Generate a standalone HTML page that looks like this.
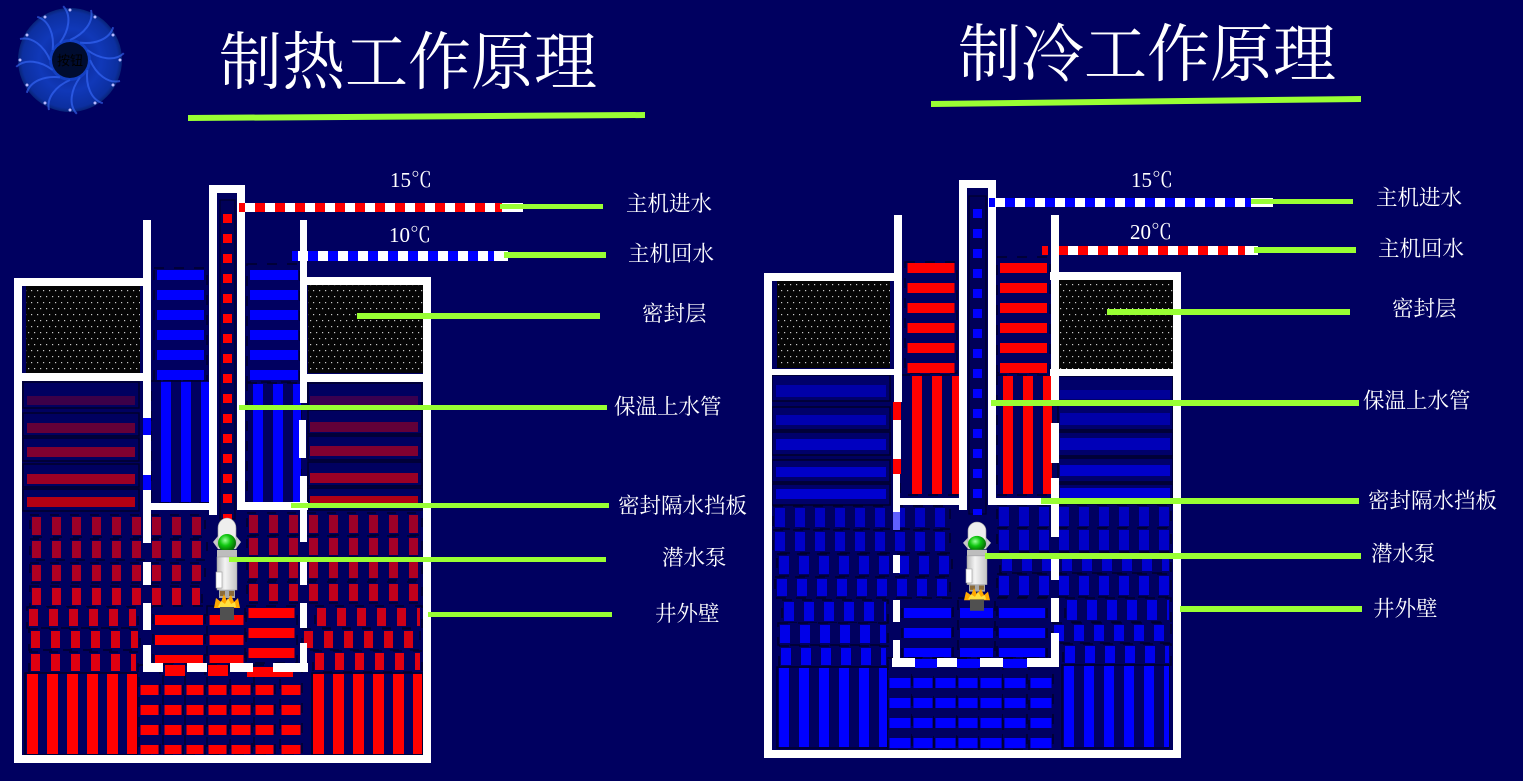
<!DOCTYPE html>
<html><head><meta charset="utf-8">
<style>
html,body{margin:0;padding:0;background:#000060;width:1523px;height:781px;overflow:hidden}
svg{display:block}
.b{fill:#000060;stroke:#00002a;stroke-width:1.5}
.bb{fill:#00006a;stroke:#00002a;stroke-width:1.5}
.w{fill:#ffffff}
.lbl{font-family:"Liberation Serif","Noto Serif CJK SC",serif;font-size:21.5px;fill:#ffffff}
.ttl{font-family:"Liberation Serif","Noto Serif CJK SC",serif;font-size:63px;fill:#ffffff}
.tmp{font-family:"Liberation Serif","Noto Serif CJK SC",serif;font-size:21px;fill:#ffffff}
.g{fill:#99ff33}
</style></head>
<body>
<svg width="1523" height="781" viewBox="0 0 1523 781" xmlns="http://www.w3.org/2000/svg">
<defs>
<pattern id="dots" patternUnits="userSpaceOnUse" width="6" height="12">
<rect width="6" height="12" fill="#050505"/>
<rect x="1" y="2" width="1.2" height="1.2" fill="#c8c8c8"/>
<rect x="4" y="8" width="1.2" height="1.2" fill="#c8c8c8"/>
</pattern>
<radialGradient id="fan" cx="50%" cy="50%" r="50%">
<stop offset="0" stop-color="#0a2488"/>
<stop offset="0.6" stop-color="#1038b8"/>
<stop offset="0.92" stop-color="#0c2fa0"/>
<stop offset="1" stop-color="#082478"/>
</radialGradient>
<radialGradient id="gball" cx="40%" cy="35%" r="60%">
<stop offset="0" stop-color="#9cff9c"/>
<stop offset="0.5" stop-color="#10c810"/>
<stop offset="1" stop-color="#067006"/>
</radialGradient>
<linearGradient id="body" x1="0" x2="1">
<stop offset="0" stop-color="#b8b8b8"/>
<stop offset="0.4" stop-color="#f4f4f4"/>
<stop offset="1" stop-color="#c4c4c4"/>
</linearGradient>
<g id="pump">
<polygon points="-14,24 -9,18 9,18 14,24 9,31 -9,31" fill="#c8c8c8"/>
<path d="M-9,31 L-9,10 A9,10 0 0 1 9,10 L9,31 Z" fill="#eeeeee" stroke="#a0a0a0" stroke-width="0.6"/>
<circle cx="0" cy="25" r="9" fill="url(#gball)"/>
<rect x="-10" y="32" width="20" height="7" fill="#bdbdbd"/>
<rect x="-10" y="39" width="20" height="33" fill="url(#body)" stroke="#9a9a9a" stroke-width="0.5"/>
<rect x="-11" y="54" width="6" height="16" fill="#ffffff" stroke="#999" stroke-width="0.6"/>
<rect x="-8" y="72" width="16" height="8" fill="#a8a8a8"/>
<rect x="-7" y="73" width="5" height="5" fill="#8a6a3a"/>
<rect x="2" y="73" width="5" height="5" fill="#8a6a3a"/>
<polygon points="-13,90 -11,80 -6,84 -3,76 0,83 4,77 7,84 11,80 13,90" fill="#ffa800"/>
<polygon points="-9,89 -6,83 -2,86 1,80 4,86 8,84 9,89" fill="#ffe040"/>
<rect x="-7" y="89" width="14" height="13" fill="#505050"/>
</g>
<path id="blade" d="M0,-20 C14,-26 24,-38 21,-50" stroke="#3a6cff" stroke-width="2" fill="none" opacity="0.6"/>
</defs>

<!-- ===== LOGO ===== -->
<g transform="translate(70,60)">
<circle r="52" fill="url(#fan)"/>
<use href="#blade"/>
<use href="#blade" transform="rotate(30)"/>
<use href="#blade" transform="rotate(60)"/>
<use href="#blade" transform="rotate(90)"/>
<use href="#blade" transform="rotate(120)"/>
<use href="#blade" transform="rotate(150)"/>
<use href="#blade" transform="rotate(180)"/>
<use href="#blade" transform="rotate(210)"/>
<use href="#blade" transform="rotate(240)"/>
<use href="#blade" transform="rotate(270)"/>
<use href="#blade" transform="rotate(300)"/>
<use href="#blade" transform="rotate(330)"/>
<circle r="21" fill="#1a50e0" opacity="0.5"/>
<circle r="18" fill="#000c30"/>
<g fill="#b8b8ff">
<circle cx="0" cy="-50" r="1.5"/><circle cx="25" cy="-43" r="1.5"/><circle cx="43" cy="-25" r="1.5"/>
<circle cx="50" cy="0" r="1.5"/><circle cx="43" cy="25" r="1.5"/><circle cx="25" cy="43" r="1.5"/>
<circle cx="0" cy="50" r="1.5"/><circle cx="-25" cy="43" r="1.5"/><circle cx="-43" cy="25" r="1.5"/>
<circle cx="-50" cy="0" r="1.5"/><circle cx="-43" cy="-25" r="1.5"/><circle cx="-25" cy="-43" r="1.5"/>
</g>
<text x="0" y="5" text-anchor="middle" font-family="'Noto Sans CJK SC',sans-serif" font-size="13" fill="#000">按钮</text>
</g>

<!-- ===== TITLES ===== -->
<text class="ttl" x="219" y="84">制热工作原理</text>
<polygon class="g" points="188,115 645,112 645,118 188,121"/>
<text class="ttl" x="958" y="76">制冷工作原理</text>
<polygon class="g" points="931,101 1361,96 1361,102 931,107"/>

<!-- =================== LEFT DIAGRAM =================== -->
<rect class="b" x="23" y="382" width="116" height="26"/><rect x="27" y="396" width="108" height="9" fill="#3c0048"/>
<rect class="b" x="23" y="413" width="116" height="23"/><rect x="27" y="423" width="108" height="10" fill="#640038"/>
<rect class="b" x="23" y="438" width="116" height="23"/><rect x="27" y="447" width="108" height="10" fill="#800030"/>
<rect class="b" x="23" y="464" width="116" height="23"/><rect x="27" y="474" width="108" height="10" fill="#9c0024"/>
<rect class="b" x="23" y="489" width="116" height="22"/><rect x="27" y="497" width="108" height="10" fill="#b40014"/>
<rect class="b" x="308" y="383" width="114" height="25"/><rect x="310" y="396" width="108" height="9" fill="#3a0050"/>
<rect class="b" x="308" y="410" width="114" height="24"/><rect x="310" y="422" width="108" height="10" fill="#620038"/>
<rect class="b" x="308" y="436" width="114" height="24"/><rect x="310" y="446" width="108" height="10" fill="#800030"/>
<rect class="b" x="308" y="462" width="114" height="24"/><rect x="310" y="473" width="108" height="10" fill="#9a0025"/>
<rect class="b" x="308" y="488" width="114" height="22"/><rect x="310" y="496" width="108" height="10" fill="#b00015"/>

<g stroke-dasharray="9 11">
<rect class="b" x="30" y="515" width="175" height="22"/><line x1="32" y1="526" x2="203" y2="526" stroke="#9c0028" stroke-width="18"/>
<rect class="b" x="30" y="539" width="177" height="21"/><line x1="32" y1="549.5" x2="205" y2="549.5" stroke="#a40028" stroke-width="17"/>
<rect class="b" x="30" y="563" width="175" height="20"/><line x1="32" y1="573" x2="203" y2="573" stroke="#b00022" stroke-width="16"/>
<rect class="b" x="30" y="586" width="172" height="21"/><line x1="32" y1="596.5" x2="200" y2="596.5" stroke="#c8001a" stroke-width="17"/>
<rect class="b" x="27" y="607" width="111" height="21"/><line x1="29" y1="617.5" x2="136" y2="617.5" stroke="#cc0018" stroke-width="17"/>
<rect class="b" x="29" y="629" width="111" height="21"/><line x1="31" y1="639.5" x2="138" y2="639.5" stroke="#d80012" stroke-width="17"/>
<rect class="b" x="29" y="652" width="109" height="21"/><line x1="31" y1="662.5" x2="136" y2="662.5" stroke="#e00010" stroke-width="17"/>
<rect class="b" x="247" y="513" width="175" height="22"/><line x1="249" y1="524" x2="420" y2="524" stroke="#9c0028" stroke-width="18"/>
<rect class="b" x="247" y="536" width="175" height="21"/><line x1="249" y1="546.5" x2="420" y2="546.5" stroke="#a40028" stroke-width="17"/>
<rect class="b" x="247" y="560" width="175" height="20"/><line x1="249" y1="570" x2="420" y2="570" stroke="#b00022" stroke-width="16"/>
<rect class="b" x="247" y="582" width="175" height="21"/><line x1="249" y1="592.5" x2="420" y2="592.5" stroke="#c0001c" stroke-width="17"/>
<rect class="b" x="315" y="606" width="107" height="22"/><line x1="317" y1="617" x2="420" y2="617" stroke="#cc0018" stroke-width="18"/>
<rect class="b" x="302" y="629" width="118" height="21"/><line x1="304" y1="639.5" x2="418" y2="639.5" stroke="#d80012" stroke-width="17"/>
<rect class="b" x="313" y="651" width="109" height="21"/><line x1="315" y1="661.5" x2="420" y2="661.5" stroke="#e00010" stroke-width="17"/>
</g>

<rect class="b" x="25" y="673" width="112" height="82"/>
<line x1="27" y1="714" x2="137" y2="714" stroke="#ff0000" stroke-width="80" stroke-dasharray="11 9"/>
<rect class="b" x="312" y="673" width="110" height="82"/>
<line x1="313" y1="714" x2="422" y2="714" stroke="#ff0000" stroke-width="80" stroke-dasharray="11 9"/>

<g stroke="#ff0000" stroke-dasharray="10 10">
<rect class="b" x="139" y="665" width="21" height="90"/><line x1="149.5" y1="685" x2="149.5" y2="754" stroke-width="18"/>
<rect class="b" x="163" y="665" width="20" height="90"/><line x1="173" y1="685" x2="173" y2="754" stroke-width="17"/>
<rect class="b" x="185" y="665" width="20" height="90"/><line x1="195" y1="685" x2="195" y2="754" stroke-width="17"/>
<rect class="b" x="207" y="665" width="21" height="90"/><line x1="217.5" y1="685" x2="217.5" y2="754" stroke-width="18"/>
<rect class="b" x="230" y="665" width="22" height="90"/><line x1="241" y1="685" x2="241" y2="754" stroke-width="19"/>
<rect class="b" x="254" y="665" width="21" height="90"/><line x1="264.5" y1="685" x2="264.5" y2="754" stroke-width="18"/>
<rect class="b" x="280" y="665" width="22" height="90"/><line x1="291" y1="685" x2="291" y2="754" stroke-width="19"/>
</g>
<rect x="165" y="665" width="20" height="11" fill="#ff0000"/>
<rect x="208" y="665" width="20" height="11" fill="#ff0000"/>
<rect x="247" y="667" width="46" height="10" fill="#ff0000"/>

<g stroke="#ff0000" stroke-dasharray="10 10">
<rect class="b" x="153" y="606" width="52" height="57"/><line x1="179" y1="615" x2="179" y2="663" stroke-width="48"/>
<rect class="b" x="207" y="606" width="38" height="57"/><line x1="226.5" y1="615" x2="226.5" y2="663" stroke-width="34"/>
<rect class="b" x="246" y="606" width="51" height="57"/><line x1="271.5" y1="608" x2="271.5" y2="663" stroke-width="46"/>
</g>

<g stroke="#0000ff" stroke-dasharray="10 10">
<rect class="b" x="154" y="268" width="53" height="113"/><line x1="180.5" y1="270" x2="180.5" y2="380" stroke-width="47"/>
<rect class="b" x="151" y="381" width="58" height="122"/><line x1="161" y1="442" x2="209" y2="442" stroke-width="120"/>
<rect class="b" x="247" y="264" width="53" height="118"/><line x1="274" y1="270" x2="274" y2="381" stroke-width="48"/>
<rect class="b" x="247" y="383" width="54" height="120"/><line x1="253" y1="443" x2="301" y2="443" stroke-width="118"/>
</g>

<rect class="w" x="209" y="185" width="36" height="8"/>
<rect class="w" x="209" y="185" width="8" height="330"/>
<rect class="w" x="237" y="185" width="8" height="325"/>
<rect x="217" y="193" width="20" height="327" fill="#000060"/>
<rect x="220" y="200" width="15" height="319" fill="#000058" stroke="#00002a" stroke-width="1.2"/>
<line x1="227.5" y1="214" x2="227.5" y2="520" stroke="#ff0000" stroke-width="9" stroke-dasharray="9 11"/>

<rect x="26" y="286" width="114" height="87" fill="url(#dots)"/>
<rect x="308" y="285" width="115" height="88" fill="url(#dots)"/>

<g class="w">
<rect x="14" y="278" width="8" height="485"/>
<rect x="14" y="755" width="417" height="8"/>
<rect x="423" y="278" width="8" height="485"/>
<rect x="14" y="278" width="137" height="8"/>
<rect x="300" y="277" width="131" height="8"/>
<rect x="14" y="373" width="129" height="8"/>
<rect x="300" y="374" width="131" height="8"/>
<rect x="143" y="220" width="8" height="198"/>
<rect x="143" y="435" width="8" height="40"/>
<rect x="143" y="490" width="8" height="53"/>
<rect x="143" y="562" width="8" height="23"/>
<rect x="143" y="603" width="8" height="27"/>
<rect x="143" y="645" width="8" height="27"/>
<rect x="300" y="220" width="7" height="183"/>
<rect x="299" y="420" width="7" height="38"/>
<rect x="300" y="476" width="7" height="66"/>
<rect x="300" y="562" width="7" height="23"/>
<rect x="300" y="603" width="7" height="25"/>
<rect x="300" y="643" width="7" height="29"/>
<rect x="143" y="503" width="74" height="7"/>
<rect x="237" y="502" width="71" height="8"/>
<rect x="143" y="663" width="20" height="9"/>
<rect x="187" y="663" width="20" height="9"/>
<rect x="230" y="663" width="23" height="9"/>
<rect x="273" y="663" width="35" height="9"/>
</g>
<rect x="143" y="418" width="8" height="17" fill="#0000ff"/>
<rect x="143" y="475" width="8" height="15" fill="#0000ff"/>

<use href="#pump" transform="translate(227,518)"/>

<rect class="w" x="239" y="203" width="284" height="9"/>
<line x1="239" y1="207.5" x2="502" y2="207.5" stroke="#ff0000" stroke-width="9" stroke-dasharray="10 10" stroke-dashoffset="4"/>
<rect class="w" x="292" y="251" width="216" height="10"/>
<line x1="292" y1="256" x2="494" y2="256" stroke="#0000ff" stroke-width="10" stroke-dasharray="10 10" stroke-dashoffset="4"/>
<rect class="w" x="300" y="251" width="7" height="10"/>

<text class="tmp" x="390" y="187">15℃</text>
<text class="tmp" x="389" y="242">10℃</text>

<rect class="g" x="500" y="204" width="103" height="5"/>
<rect class="g" x="504" y="252" width="102" height="6"/>
<rect class="g" x="357" y="313" width="243" height="6"/>
<rect class="g" x="239" y="405" width="368" height="5"/>
<rect class="g" x="291" y="503" width="318" height="5"/>
<rect class="g" x="229" y="557" width="377" height="5"/>
<rect class="g" x="428" y="612" width="184" height="5"/>

<text class="lbl" x="626" y="211">主机进水</text>
<text class="lbl" x="628" y="261">主机回水</text>
<text class="lbl" x="642" y="321">密封层</text>
<text class="lbl" x="614" y="414">保温上水管</text>
<text class="lbl" x="618" y="513">密封隔水挡板</text>
<text class="lbl" x="662" y="565">潜水泵</text>
<text class="lbl" x="655" y="621">井外壁</text>

<!-- =================== RIGHT DIAGRAM =================== -->
<rect class="bb" x="772" y="375" width="118" height="26"/><rect x="776" y="385" width="110" height="12" fill="#0000a8"/>
<rect class="bb" x="772" y="407" width="118" height="23"/><rect x="776" y="415" width="110" height="10" fill="#0000b0"/>
<rect class="bb" x="772" y="432" width="118" height="23"/><rect x="776" y="439" width="110" height="11" fill="#0000c0"/>
<rect class="bb" x="772" y="460" width="118" height="22"/><rect x="776" y="467" width="110" height="10" fill="#0000c8"/>
<rect class="bb" x="772" y="484" width="118" height="21"/><rect x="776" y="489" width="110" height="10" fill="#0000d0"/>
<rect class="bb" x="1058" y="376" width="115" height="26"/><rect x="1060" y="390" width="110" height="9" fill="#000098"/>
<rect class="bb" x="1058" y="405" width="115" height="25"/><rect x="1060" y="413" width="110" height="12" fill="#0000a8"/>
<rect class="bb" x="1058" y="432" width="115" height="24"/><rect x="1060" y="438" width="110" height="12" fill="#0000b8"/>
<rect class="bb" x="1058" y="458" width="115" height="24"/><rect x="1060" y="465" width="110" height="11" fill="#0000c8"/>
<rect class="bb" x="1058" y="484" width="115" height="21"/><rect x="1060" y="488" width="110" height="10" fill="#0000d8"/>

<g stroke-dasharray="10 10">
<rect class="b" x="773" y="506" width="177" height="23"/><line x1="775" y1="517.5" x2="948" y2="517.5" stroke="#0000c0" stroke-width="19"/>
<rect class="b" x="773" y="530" width="177" height="23"/><line x1="775" y1="541.5" x2="948" y2="541.5" stroke="#0000c8" stroke-width="19"/>
<rect class="b" x="777" y="554" width="175" height="22"/><line x1="779" y1="565" x2="950" y2="565" stroke="#0000d0" stroke-width="18"/>
<rect class="b" x="775" y="577" width="175" height="21"/><line x1="777" y1="587.5" x2="948" y2="587.5" stroke="#0000d8" stroke-width="17"/>
<rect class="b" x="782" y="600" width="106" height="23"/><line x1="784" y1="611.5" x2="886" y2="611.5" stroke="#0000e0" stroke-width="19"/>
<rect class="b" x="778" y="623" width="110" height="22"/><line x1="780" y1="634" x2="886" y2="634" stroke="#0000e8" stroke-width="18"/>
<rect class="b" x="779" y="646" width="109" height="21"/><line x1="781" y1="656.5" x2="886" y2="656.5" stroke="#0000f0" stroke-width="17"/>
<rect class="b" x="997" y="505" width="174" height="23"/><line x1="999" y1="516.5" x2="1169" y2="516.5" stroke="#0000c0" stroke-width="19"/>
<rect class="b" x="997" y="528" width="174" height="24"/><line x1="999" y1="540" x2="1169" y2="540" stroke="#0000c8" stroke-width="20"/>
<rect class="b" x="1000" y="553" width="171" height="20"/><line x1="1002" y1="563" x2="1169" y2="563" stroke="#0000d0" stroke-width="16"/>
<rect class="b" x="997" y="574" width="174" height="23"/><line x1="999" y1="585.5" x2="1169" y2="585.5" stroke="#0000d8" stroke-width="19"/>
<rect class="b" x="1065" y="598" width="106" height="24"/><line x1="1067" y1="610" x2="1169" y2="610" stroke="#0000e0" stroke-width="20"/>
<rect class="b" x="1052" y="623" width="119" height="20"/><line x1="1054" y1="633" x2="1169" y2="633" stroke="#0000e8" stroke-width="16"/>
<rect class="b" x="1063" y="644" width="108" height="21"/><line x1="1065" y1="654.5" x2="1169" y2="654.5" stroke="#0000f0" stroke-width="17"/>
</g>

<rect class="b" x="777" y="667" width="110" height="81"/>
<line x1="779" y1="707.5" x2="887" y2="707.5" stroke="#0000ff" stroke-width="79" stroke-dasharray="10 10"/>
<rect class="b" x="1062" y="665" width="107" height="83"/>
<line x1="1064" y1="706.5" x2="1169" y2="706.5" stroke="#0000ff" stroke-width="81" stroke-dasharray="10 10"/>

<g stroke="#0000ff" stroke-dasharray="10 10">
<rect class="b" x="888" y="658" width="24" height="92"/><line x1="900" y1="678" x2="900" y2="748" stroke-width="21"/>
<rect class="b" x="912" y="658" width="22" height="92"/><line x1="923" y1="678" x2="923" y2="748" stroke-width="19"/>
<rect class="b" x="934" y="658" width="23" height="92"/><line x1="945.5" y1="678" x2="945.5" y2="748" stroke-width="20"/>
<rect class="b" x="957" y="658" width="22" height="92"/><line x1="968" y1="678" x2="968" y2="748" stroke-width="19"/>
<rect class="b" x="979" y="658" width="24" height="92"/><line x1="991" y1="678" x2="991" y2="748" stroke-width="21"/>
<rect class="b" x="1003" y="658" width="24" height="92"/><line x1="1015" y1="678" x2="1015" y2="748" stroke-width="21"/>
<rect class="b" x="1029" y="658" width="24" height="92"/><line x1="1041" y1="678" x2="1041" y2="748" stroke-width="21"/>
</g>
<rect x="915" y="659" width="22" height="9" fill="#0000ff"/>
<rect x="957" y="659" width="23" height="9" fill="#0000ff"/>
<rect x="1003" y="659" width="24" height="9" fill="#0000ff"/>

<g stroke="#0000ff" stroke-dasharray="10 10">
<rect class="b" x="902" y="598" width="51" height="59"/><line x1="927.5" y1="608" x2="927.5" y2="657" stroke-width="47"/>
<rect class="b" x="958" y="598" width="37" height="59"/><line x1="976.5" y1="608" x2="976.5" y2="657" stroke-width="33"/>
<rect class="b" x="997" y="598" width="50" height="59"/><line x1="1022" y1="608" x2="1022" y2="657" stroke-width="46"/>
</g>

<g stroke="#ff0000" stroke-dasharray="10 10">
<rect class="b" x="905" y="262" width="52" height="111"/><line x1="931" y1="263" x2="931" y2="373" stroke-width="47"/>
<rect class="b" x="900" y="375" width="59" height="120"/><line x1="912" y1="435" x2="959" y2="435" stroke-width="118"/>
<rect class="b" x="997" y="257" width="53" height="116"/><line x1="1023.5" y1="263" x2="1023.5" y2="373" stroke-width="47"/>
<rect class="b" x="997" y="375" width="55" height="120"/><line x1="1003" y1="435" x2="1052" y2="435" stroke-width="118"/>
</g>

<rect class="w" x="959" y="180" width="37" height="8"/>
<rect class="w" x="959" y="180" width="8" height="330"/>
<rect class="w" x="988" y="180" width="8" height="325"/>
<rect x="967" y="188" width="21" height="327" fill="#000060"/>
<rect x="969" y="196" width="17" height="318" fill="#000058" stroke="#00002a" stroke-width="1.2"/>
<line x1="977.5" y1="209" x2="977.5" y2="515" stroke="#0000ff" stroke-width="9" stroke-dasharray="9 11"/>

<rect x="777" y="281" width="113" height="87" fill="url(#dots)"/>
<rect x="1058" y="280" width="115" height="89" fill="url(#dots)"/>

<g class="w">
<rect x="764" y="273" width="8" height="485"/>
<rect x="764" y="750" width="417" height="8"/>
<rect x="1173" y="272" width="8" height="486"/>
<rect x="764" y="273" width="138" height="8"/>
<rect x="1050" y="272" width="131" height="8"/>
<rect x="764" y="369" width="130" height="6"/>
<rect x="1050" y="369" width="131" height="7"/>
<rect x="894" y="215" width="8" height="187"/>
<rect x="893" y="420" width="8" height="39"/>
<rect x="893" y="474" width="7" height="38"/>
<rect x="893" y="555" width="7" height="18"/>
<rect x="893" y="600" width="7" height="22"/>
<rect x="893" y="640" width="7" height="27"/>
<rect x="1051" y="215" width="8" height="190"/>
<rect x="1051" y="423" width="8" height="40"/>
<rect x="1051" y="478" width="8" height="59"/>
<rect x="1051" y="555" width="8" height="25"/>
<rect x="1051" y="598" width="8" height="24"/>
<rect x="1051" y="633" width="8" height="34"/>
<rect x="899" y="498" width="68" height="7"/>
<rect x="996" y="498" width="62" height="7"/>
<rect x="892" y="658" width="23" height="9"/>
<rect x="937" y="658" width="20" height="9"/>
<rect x="980" y="658" width="23" height="9"/>
<rect x="1027" y="658" width="31" height="9"/>
</g>
<rect x="893" y="402" width="8" height="18" fill="#ff0000"/>
<rect x="893" y="459" width="8" height="15" fill="#ff0000"/>
<rect x="893" y="512" width="7" height="18" fill="#6060ff"/>

<use href="#pump" transform="translate(977,522) scale(1,0.87)"/>

<rect class="w" x="989" y="198" width="284" height="9"/>
<line x1="989" y1="202.5" x2="1251" y2="202.5" stroke="#0000ff" stroke-width="9" stroke-dasharray="10 10" stroke-dashoffset="4"/>
<rect class="w" x="1042" y="246" width="216" height="9"/>
<line x1="1042" y1="250.5" x2="1245" y2="250.5" stroke="#ff0000" stroke-width="9" stroke-dasharray="10 10" stroke-dashoffset="4"/>
<rect x="1048" y="246" width="3" height="9" fill="#000060"/>
<rect class="w" x="1051" y="246" width="8" height="9"/>

<text class="tmp" x="1131" y="187">15℃</text>
<text class="tmp" x="1130" y="239">20℃</text>

<rect class="g" x="1251" y="199" width="102" height="5"/>
<rect class="g" x="1254" y="247" width="102" height="6"/>
<rect class="g" x="1107" y="309" width="243" height="6"/>
<rect class="g" x="991" y="400" width="368" height="6"/>
<rect class="g" x="1041" y="498" width="318" height="6"/>
<rect class="g" x="985" y="553" width="376" height="6"/>
<rect class="g" x="1180" y="606" width="182" height="6"/>

<text class="lbl" x="1376" y="205">主机进水</text>
<text class="lbl" x="1378" y="256">主机回水</text>
<text class="lbl" x="1392" y="316">密封层</text>
<text class="lbl" x="1363" y="408">保温上水管</text>
<text class="lbl" x="1368" y="508">密封隔水挡板</text>
<text class="lbl" x="1371" y="561">潜水泵</text>
<text class="lbl" x="1373" y="616">井外壁</text>
</svg>
</body></html>
